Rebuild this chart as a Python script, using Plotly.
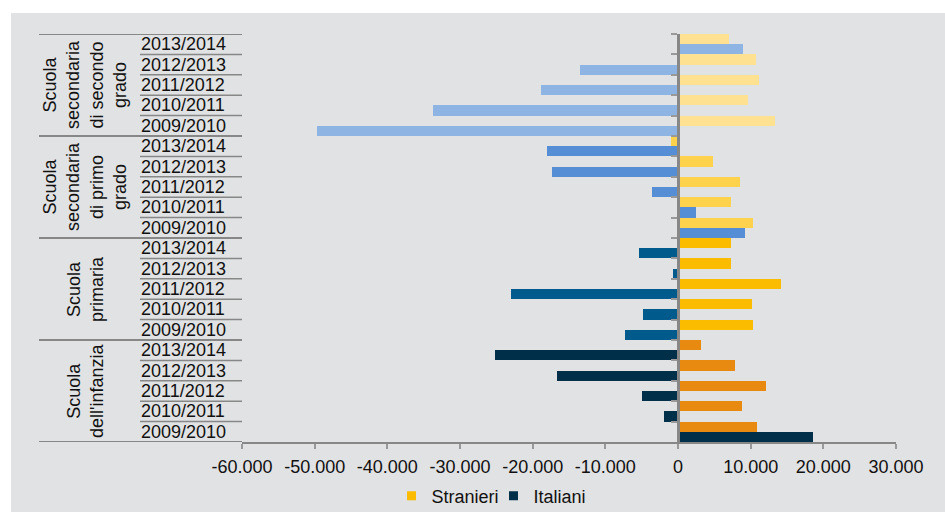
import plotly.graph_objects as go

# ---------------- data ----------------
groups = ["Scuola secondaria di secondo grado", "Scuola secondaria di primo grado",
          "Scuola primaria", "Scuola dell'infanzia"]
group_label_lines = [["Scuola", "secondaria", "di secondo", "grado"],
                     ["Scuola", "secondaria", "di primo", "grado"],
                     ["Scuola", "primaria"],
                     ["Scuola", "dell'infanzia"]]
years = ["2013/2014", "2012/2013", "2011/2012", "2010/2011", "2009/2010"]

stranieri_sec2 = [7070, 10740, 11200, 9640, 13400]
italiani_sec2 = [9000, -13460, -18830, -33700, -49700]
stranieri_sec1 = [-920, 4860, 8540, 7340, 10370]
italiani_sec1 = [-18000, -17310, -3540, 2520, 9270]
stranieri_prim = [7340, 7340, 14130, 10190, 10280]
italiani_prim = [-5330, -650, -22960, -4780, -7260]
stranieri_inf = [3210, 7890, 12160, 8860, 10920]
italiani_inf = [-25160, -16620, -4960, -1890, 18600]

x_tick_vals = [-60000, -50000, -40000, -30000, -20000, -10000, 0, 10000, 20000, 30000]
x_tick_text = ["-60.000", "-50.000", "-40.000", "-30.000", "-20.000", "-10.000", "0",
               "10.000", "20.000", "30.000"]

# ---------------- styles ----------------
stranieri_colors = ["#FFE291", "#FFD24D", "#FBBC00", "#E88A10"]
italiani_colors = ["#8EB4E3", "#558ED5", "#005A8B", "#003049"]
legend_colors = {"Stranieri": "#FBBC00", "Italiani": "#003049"}
BG = "#E1E2E3"
AX = "#878787"
TXT = "#111111"
FONT = "Liberation Sans, Arial, sans-serif"
FS = 18

stranieri_all = [stranieri_sec2, stranieri_sec1, stranieri_prim, stranieri_inf]
italiani_all = [italiani_sec2, italiani_sec1, italiani_prim, italiani_inf]

cats, xs_s, xs_i, col_s, col_i = [], [], [], [], []
for gi, g in enumerate(groups):
    for yi, yr in enumerate(years):
        cats.append(g + " | " + yr)
        xs_s.append(stranieri_all[gi][yi])
        xs_i.append(italiani_all[gi][yi])
        col_s.append(stranieri_colors[gi])
        col_i.append(italiani_colors[gi])

n = len(cats)

fig = go.Figure()
fig.add_trace(go.Bar(y=cats, x=xs_s, orientation="h", name="Stranieri",
                     marker=dict(color=col_s, line=dict(width=0)), showlegend=False))
fig.add_trace(go.Bar(y=cats, x=xs_i, orientation="h", name="Italiani",
                     marker=dict(color=col_i, line=dict(width=0)), showlegend=False))
# legend entries
for name, c in legend_colors.items():
    fig.add_trace(go.Scatter(x=[None], y=[None], mode="markers", name=name,
                             marker=dict(symbol="square", size=9, color=c)))

# plot geometry (pixels) for paper conversions
L, R, T, B = 242, 49, 34, 70
W, H = 945, 512
pw, ph = W - L - R, H - T - B


def px_x(p):
    return (p - L) / pw


def px_y(p):
    return (H - B - p) / ph


shapes = []
# grey panel background (white strip at top-left as in reference)
shapes.append(dict(type="rect", xref="paper", yref="paper", layer="below",
                   x0=px_x(11), x1=px_x(960), y0=px_y(530), y1=px_y(13),
                   fillcolor=BG, line=dict(width=0)))
# row separators in label area
for k in range(n + 1):
    b = k - 0.5
    if k % 5 == 0:
        shapes.append(dict(type="line", xref="paper", yref="y", x0=px_x(39), x1=0,
                           y0=b, y1=b, line=dict(color=AX, width=2)))
    else:
        shapes.append(dict(type="line", xref="paper", yref="y", x0=px_x(140), x1=0,
                           y0=b, y1=b, line=dict(color=AX, width=1.5)))

annotations = []
for c, (g, yr) in zip(cats, [(g, y) for g in groups for y in years]):
    annotations.append(dict(x=px_x(139), xref="paper", y=c, yref="y", text=yr,
                            showarrow=False, xanchor="left", yanchor="middle",
                            font=dict(family=FONT, size=FS, color=TXT)))
for gi, lines in enumerate(group_label_lines):
    annotations.append(dict(x=px_x(85), xref="paper", y=cats[gi * 5 + 2], yref="y",
                            text="<br>".join(lines), textangle=-90, showarrow=False,
                            xanchor="center", yanchor="middle", align="center",
                            font=dict(family=FONT, size=FS, color=TXT)))

zero_pos = (0 - x_tick_vals[0]) / (x_tick_vals[-1] - x_tick_vals[0])

fig.update_layout(
    width=W, height=H,
    margin=dict(l=L, r=R, t=T, b=B, pad=0, autoexpand=False),
    paper_bgcolor="white", plot_bgcolor=BG,
    barmode="group", bargap=0, bargroupgap=0,
    font=dict(family=FONT, size=FS, color=TXT),
    shapes=shapes, annotations=annotations,
    showlegend=True,
    legend=dict(orientation="h", x=px_x(493.5), xanchor="center", y=px_y(496),
                yanchor="middle", bgcolor="rgba(0,0,0,0)",
                font=dict(family=FONT, size=FS, color=TXT), itemwidth=30,
                entrywidth=57, entrywidthmode="pixels",
                traceorder="normal"),
    xaxis=dict(range=[x_tick_vals[0], x_tick_vals[-1]], tickvals=x_tick_vals,
               ticktext=x_tick_text, showgrid=False, zeroline=False,
               showline=True, linecolor=AX, linewidth=2,
               ticks="outside", ticklen=5, tickwidth=2, tickcolor="#999999",
               ticklabelstandoff=2,
               tickfont=dict(family=FONT, size=FS, color=TXT), fixedrange=True),
    yaxis=dict(type="category", categoryorder="array", categoryarray=cats,
               range=[n - 0.5, -0.5], anchor="free", position=zero_pos,
               showline=True, linecolor=AX, linewidth=2.5,
               ticks="outside", tickson="boundaries", ticklen=6, tickwidth=2,
               tickcolor="#999999", showticklabels=False, showgrid=False,
               zeroline=False, fixedrange=True),
)

fig.write_html("out.html")
